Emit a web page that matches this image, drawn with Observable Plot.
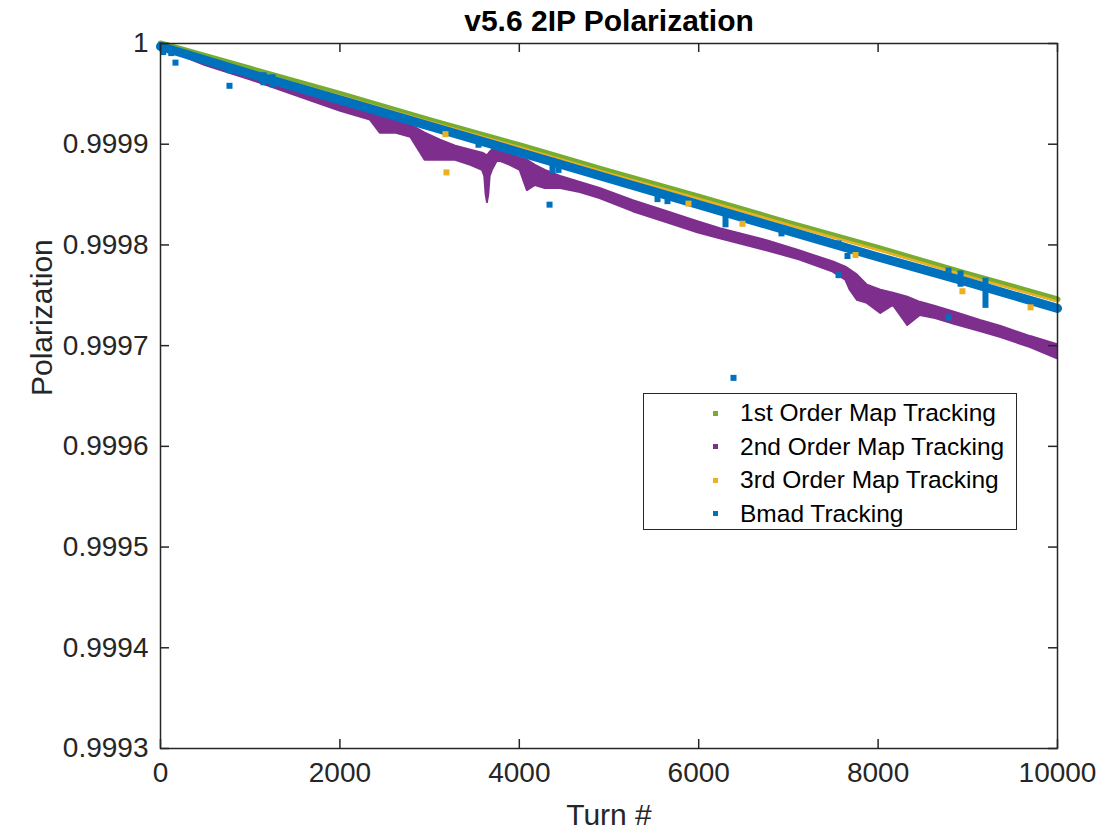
<!DOCTYPE html>
<html>
<head>
<meta charset="utf-8">
<script src="https://cdn.jsdelivr.net/npm/d3@7"></script>
<script src="https://cdn.jsdelivr.net/npm/@observablehq/plot@0.6"></script>
<style>
  body { margin: 0; background: #fff; }
  #chart { position: relative; width: 1117px; height: 835px; font-family: "Liberation Sans", Arial, sans-serif; color: #262626; }
  .legend { position: absolute; left: 643px; top: 393px; width: 372px; height: 135px; border: 1.5px solid #262626; background: #fff; }
  .legend .row { position: absolute; left: 0; height: 30px; display: flex; align-items: center; font-size: 24.5px; color: #000; }
  .legend .sw { position: absolute; left: 69px; width: 5px; height: 5px; }
  .legend .lbl { position: absolute; left: 96px; white-space: nowrap; }
</style>
</head>
<body>
<div id="chart"></div>
<script>
// Polarization vs. turn number for four tracking methods
const chartTitle = "v5.6 2IP Polarization";
const xLabel = "Turn #";
const yLabel = "Polarization";
const xTicks = [0, 2000, 4000, 6000, 8000, 10000];
const yTicks = [0.9993, 0.9994, 0.9995, 0.9996, 0.9997, 0.9998, 0.9999, 1];

const seriesNames = ["1st Order Map Tracking", "2nd Order Map Tracking", "3rd Order Map Tracking", "Bmad Tracking"];
const seriesColors = ["#77AC30", "#7E2F8E", "#EDB120", "#0072BD"];

// Turns at which the smooth bands are read
const gridTurns = [0, 1000, 2000, 3000, 4000, 5000, 6000, 7000, 8000, 9000, 10000];
const firstOrderValues = [1.000000, 0.999975, 0.999950, 0.999924, 0.999899, 0.999873, 0.999848, 0.999822, 0.999797, 0.999771, 0.999746];
const thirdOrderValues = [0.999999, 0.999973, 0.999948, 0.999922, 0.999897, 0.999871, 0.999846, 0.999820, 0.999795, 0.999769, 0.999744];
const bmadValues       = [0.999997, 0.999970, 0.999944, 0.999918, 0.999892, 0.999866, 0.999840, 0.999814, 0.999788, 0.999763, 0.999737];

// 2nd order map tracking: upper and lower edge of the scattered band
const secondOrderTurns = [0, 500, 1000, 1450, 2000, 2340, 2450, 2620, 2790, 2950, 3120, 3290, 3460, 3590, 3615, 3630, 3645, 3660, 3675, 3700, 3760, 3900, 4010, 4090, 4180, 4290, 4460, 4680, 4900, 5270, 5650, 5990, 6240, 6770, 7130, 7500, 7640, 7690, 7770, 7880, 8030, 8170, 8330, 8470, 8640, 8860, 9140, 9370, 9700, 10000];
const secondOrderHigh = [1.000000, 0.999983, 0.999971, 0.999957, 0.999941, 0.999931, 0.999929, 0.999924, 0.999919, 0.999911, 0.999904, 0.999898, 0.999894, 0.999891, 0.999890, 0.999889, 0.999889, 0.999890, 0.999892, 0.999894, 0.999894, 0.999890, 0.999886, 0.999884, 0.999879, 0.999874, 0.999868, 0.999862, 0.999856, 0.999844, 0.999833, 0.999823, 0.999816, 0.999804, 0.999794, 0.999783, 0.999778, 0.999775, 0.999770, 0.999760, 0.999755, 0.999752, 0.999748, 0.999743, 0.999739, 0.999733, 0.999725, 0.999719, 0.999709, 0.999701];
const secondOrderLow  = [0.999996, 0.999978, 0.999964, 0.999950, 0.999933, 0.999924, 0.999911, 0.999911, 0.999907, 0.999884, 0.999884, 0.999884, 0.999879, 0.999874, 0.999868, 0.999850, 0.999842, 0.999850, 0.999868, 0.999874, 0.999884, 0.999879, 0.999874, 0.999854, 0.999859, 0.999856, 0.999856, 0.999852, 0.999846, 0.999833, 0.999822, 0.999812, 0.999806, 0.999794, 0.999785, 0.999773, 0.999765, 0.999755, 0.999745, 0.999742, 0.999732, 0.999740, 0.999720, 0.999730, 0.999727, 0.999721, 0.999714, 0.999708, 0.999698, 0.999687];

// 3rd order map tracking: isolated points off the band
const thirdOutlierTurns  = [3177, 3188, 5886, 6488, 7748, 8940, 9700];
const thirdOutlierValues = [0.999910, 0.999872, 0.999841, 0.999821, 0.999790, 0.999754, 0.999738];

// Bmad tracking: short downward excursions from the band
const bmadDipTurns  = [30, 120, 769, 1148, 1249, 3545, 4370, 4437, 5541, 5652, 6299, 6923, 7559, 8785, 8919, 9197];
const bmadDipTop    = [1.000000, 0.999996, 0.999978, 0.999971, 0.999969, 0.999906, 0.999886, 0.999884, 0.999849, 0.999848, 0.999830, 0.999819, 0.999804, 0.999777, 0.999774, 0.999767];
const bmadDipBottom = [0.999988, 0.999987, 0.999970, 0.999958, 0.999956, 0.999896, 0.999871, 0.999871, 0.999842, 0.999840, 0.999817, 0.999808, 0.999796, 0.999768, 0.999758, 0.999737];
// Bmad tracking: isolated points
const bmadOutlierTurns  = [167, 769, 4337, 6388, 7559, 7659, 8785];
const bmadOutlierValues = [0.999981, 0.999958, 0.999840, 0.999668, 0.999770, 0.999789, 0.999728];

const [green, purple, orange, blue] = seriesColors;
const ink = "#262626";

const first = gridTurns.map((t, i) => ({turn: t, value: firstOrderValues[i]}));
const third = gridTurns.map((t, i) => ({turn: t, value: thirdOrderValues[i]}));
const bmad = gridTurns.map((t, i) => ({turn: t, value: bmadValues[i]}));
const second = secondOrderTurns.map((t, i) => ({turn: t, high: secondOrderHigh[i], low: secondOrderLow[i]}));
const thirdOutliers = thirdOutlierTurns.map((t, i) => ({turn: t, value: thirdOutlierValues[i]}));
const bmadDips = bmadDipTurns.map((t, i) => ({turn: t, top: bmadDipTop[i], bottom: bmadDipBottom[i]}));
const bmadOutliers = bmadOutlierTurns.map((t, i) => ({turn: t, value: bmadOutlierValues[i]}));

const W = 1117, H = 835, mL = 160, mR = 60, mT = 43, mB = 87;
const innerW = W - mL - mR, innerH = H - mT - mB;
const tickLen = 9;

const chart = Plot.plot({
  width: W, height: H,
  marginLeft: mL, marginRight: mR, marginTop: mT, marginBottom: mB,
  style: {fontFamily: '"Liberation Sans", Arial, sans-serif', fontSize: "28px", color: ink, background: "white", overflow: "visible"},
  x: {domain: [0, 10000]},
  y: {domain: [0.9993, 1]},
  marks: [
    Plot.line(first, {x: "turn", y: "value", stroke: green, strokeWidth: 6}),
    Plot.areaY(second, {x: "turn", y1: "low", y2: "high", fill: purple, stroke: purple, strokeWidth: 2}),
    Plot.line(third, {x: "turn", y: "value", stroke: orange, strokeWidth: 2.5}),
    Plot.line(bmad, {x: "turn", y: "value", stroke: blue, strokeWidth: 9}),
    Plot.ruleX(bmadDips, {x: "turn", y1: "top", y2: "bottom", stroke: blue, strokeWidth: 6}),
    Plot.dot(thirdOutliers, {x: "turn", y: "value", symbol: "square", r: 3.4, fill: orange}),
    Plot.dot(bmadOutliers, {x: "turn", y: "value", symbol: "square", r: 3.4, fill: blue}),
    Plot.frame({stroke: ink, strokeWidth: 1.5}),
    Plot.tickX(xTicks, {x: d => d, insetTop: innerH - tickLen, stroke: ink, strokeWidth: 1.5}),
    Plot.tickX(xTicks, {x: d => d, insetBottom: innerH - tickLen, stroke: ink, strokeWidth: 1.5}),
    Plot.tickY(yTicks, {y: d => d, insetRight: innerW - tickLen, stroke: ink, strokeWidth: 1.5}),
    Plot.tickY(yTicks, {y: d => d, insetLeft: innerW - tickLen, stroke: ink, strokeWidth: 1.5}),
    Plot.axisX({ticks: xTicks, tickSize: 0, tickPadding: 14, label: null, tickFormat: d => String(d)}),
    Plot.axisY({ticks: yTicks, tickSize: 0, tickPadding: 12, label: null, tickFormat: d => d === 1 ? "1" : d.toFixed(4)}),
    Plot.text([xLabel], {frameAnchor: "bottom", lineAnchor: "middle", dy: 67, fontSize: 30, fill: ink}),
    Plot.text([yLabel], {frameAnchor: "left", lineAnchor: "middle", rotate: -90, dx: -118, fontSize: 30, fill: ink}),
    Plot.text([chartTitle], {frameAnchor: "top", lineAnchor: "middle", dy: -22, fontSize: 30, fontWeight: "bold", fill: "#000"})
  ]
});

const root = document.getElementById("chart");
root.appendChild(chart);

// Legend box inside the plot area
const legend = document.createElement("div");
legend.className = "legend";
seriesNames.forEach((name, i) => {
  const row = document.createElement("div");
  row.className = "row";
  row.style.top = (4 + i * 33.5) + "px";
  const sw = document.createElement("div");
  sw.className = "sw";
  sw.style.background = seriesColors[i];
  const lbl = document.createElement("div");
  lbl.className = "lbl";
  lbl.textContent = name;
  row.appendChild(sw);
  row.appendChild(lbl);
  legend.appendChild(row);
});
root.appendChild(legend);
</script>
</body>
</html>
